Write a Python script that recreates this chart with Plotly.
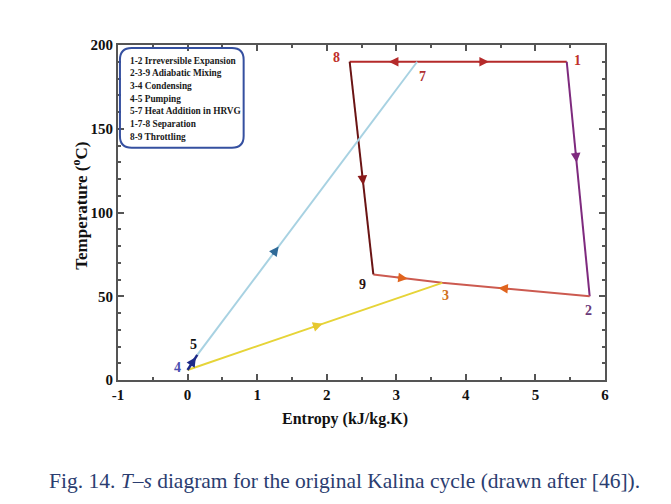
import math
import plotly.graph_objects as go

# ---- data ----
state_names = ["1", "2", "3", "4", "5", "7", "8", "9"]
state_s = [5.45, 5.78, 3.66, 0.00, 0.14, 3.30, 2.33, 2.67]   # kJ/kg.K
state_T = [190, 50, 58, 6, 15, 190, 190, 63]                  # degC

legend_lines = [
    "1-2 Irreversible Expansion",
    "2-3-9 Adiabatic Mixing",
    "3-4 Condensing",
    "4-5 Pumping",
    "5-7 Heat Addition in HRVG",
    "1-7-8 Separation",
    "8-9 Throttling",
]

x_tick_vals = [-1, 0, 1, 2, 3, 4, 5, 6]
x_tick_text = ["-1", "0", "1", "2", "3", "4", "5", "6"]
y_tick_vals = [0, 50, 100, 150, 200]
y_tick_text = ["0", "50", "100", "150", "200"]

P = {n: (s, t) for n, s, t in zip(state_names, state_s, state_T)}

# processes: (path of states, line colour, width)
processes = [
    (["8", "7", "1"], "#b52a2a", 2.0),
    (["1", "2"], "#7e2a7e", 2.0),
    (["9", "3", "2"], "#cc5a50", 2.0),
    (["8", "9"], "#6a1414", 2.0),
    (["4", "3"], "#e6d438", 2.0),
    (["5", "7"], "#a8d2e2", 2.0),
    (["4", "5"], "#1c2a88", 2.5),
]

# arrows: (from, to, fraction along segment, colour)
arrows = [
    ("7", "8", 0.42, "#b52a2a"),
    ("7", "1", 0.48, "#b52a2a"),
    ("1", "2", 0.43, "#7e2a7e"),
    ("8", "9", 0.58, "#8a1a1a"),
    ("9", "3", 0.50, "#e0641e"),
    ("2", "3", 0.62, "#e0641e"),
    ("4", "3", 0.53, "#e6c830"),
    ("5", "7", 0.37, "#2f6a98"),
    ("4", "5", 0.85, "#1c2a88"),
]

# point labels: (state, colour, xshift px, yshift px)
point_labels = [
    ("1", "#c0302a", 11, 1),
    ("8", "#c0302a", -13, 4),
    ("7", "#b03030", 5, -15),
    ("9", "#2a1010", -11, -10),
    ("3", "#d07020", 3, -13),
    ("2", "#6a3a7a", -1, -14),
    ("5", "#111111", -4, 10),
    ("4", "#4a4fb0", -10, 2),
]

SERIF = "Liberation Serif"

# plot-area geometry (page has an 8px body margin)
ML, MR, MT, MB = 110, 74, 37, 132
PW = 671 - ML - MR
PH = 504 - MT - MB
XR, YR = (-1, 6), (0, 200)
kx = PW / (XR[1] - XR[0])
ky = PH / (YR[1] - YR[0])

fig = go.Figure()
for path, col, w in processes:
    fig.add_trace(go.Scatter(
        x=[P[n][0] for n in path], y=[P[n][1] for n in path],
        mode="lines", line=dict(color=col, width=w),
        showlegend=False, hoverinfo="skip"))

anns = []
for a, b, f, col in arrows:
    (x0, y0), (x1, y1) = P[a], P[b]
    hx, hy = x0 + f * (x1 - x0), y0 + f * (y1 - y0)
    seg_px = math.hypot((x1 - x0) * kx, (y1 - y0) * ky)
    g = f - 12.0 / seg_px
    tx, ty = x0 + g * (x1 - x0), y0 + g * (y1 - y0)
    anns.append(dict(x=hx, y=hy, ax=tx, ay=ty, xref="x", yref="y",
                     axref="x", ayref="y", text="", showarrow=True,
                     arrowhead=2, arrowsize=1.2, arrowwidth=1.6,
                     arrowcolor=col))

for n, col, dx, dy in point_labels:
    anns.append(dict(x=P[n][0], y=P[n][1], xref="x", yref="y", text=f"<b>{n}</b>",
                     showarrow=False, xshift=dx, yshift=dy,
                     font=dict(family=SERIF, size=14, color=col)))

# legend box text
leg_y0 = 0.953
leg_step = 0.0378
for i, line in enumerate(legend_lines):
    anns.append(dict(x=0.02, y=leg_y0 - i * leg_step, xref="paper", yref="paper",
                     text=f"<b>{line}</b>", showarrow=False, xanchor="left",
                     yanchor="middle",
                     font=dict(family=SERIF, size=9.3, color="#1a1a1a")))

# axis titles
anns.append(dict(x=0.466, y=-0.115, xref="paper", yref="paper", yanchor="middle",
                 xanchor="center", text="<b>Entropy (kJ/kg.K)</b>", showarrow=False,
                 font=dict(family=SERIF, size=16, color="#111111")))
anns.append(dict(x=-0.078, y=0.52, xref="paper", yref="paper", yanchor="middle",
                 xanchor="center", textangle=-90,
                 text="<b>Temperature (<sup>o</sup>C)</b>", showarrow=False,
                 font=dict(family=SERIF, size=17, color="#111111")))

# caption
anns.append(dict(x=0.466, y=-0.3, xref="paper", yref="paper", yanchor="middle",
                 xanchor="center",
                 text="Fig. 14. <i>T–s</i> diagram for the original Kalina cycle (drawn after [46]).",
                 showarrow=False,
                 font=dict(family=SERIF, size=21.5, color="#2b3d70")))

# rounded legend box (paper coords)
x0b, x1b, y0b, y1b = 0.004, 0.258, 0.693, 0.991
rx, ry = 0.024, 0.035
path = (f"M {x0b+rx},{y1b} L {x1b-rx},{y1b} Q {x1b},{y1b} {x1b},{y1b-ry} "
        f"L {x1b},{y0b+ry} Q {x1b},{y0b} {x1b-rx},{y0b} "
        f"L {x0b+rx},{y0b} Q {x0b},{y0b} {x0b},{y0b+ry} "
        f"L {x0b},{y1b-ry} Q {x0b},{y1b} {x0b+rx},{y1b} Z")
fig.add_shape(type="path", path=path, xref="paper", yref="paper",
              line=dict(color="#3550a0", width=2), fillcolor="rgba(255,255,255,0)")

axis_common = dict(showgrid=False, zeroline=False, showline=True, mirror="ticks",
                   linecolor="#555555", linewidth=2, ticks="inside", ticklen=6,
                   tickcolor="#555555", tickwidth=1.5,
                   tickfont=dict(family=SERIF, size=15, color="#111111"))

fig.update_layout(
    width=671, height=504,
    paper_bgcolor="white", plot_bgcolor="white",
    margin=dict(l=ML, r=MR, t=MT, b=MB),
    xaxis=dict(range=list(XR), tickvals=x_tick_vals,
               ticktext=[f"<b>{t}</b>" for t in x_tick_text],
               minor=dict(dtick=0.5, ticks="inside", ticklen=3, tickcolor="#555555"),
               **axis_common),
    yaxis=dict(range=list(YR), tickvals=y_tick_vals,
               ticktext=[f"<b>{t}</b>" for t in y_tick_text],
               minor=dict(dtick=10, ticks="inside", ticklen=3, tickcolor="#555555"),
               **axis_common),
    annotations=anns,
)

fig.write_html("out.html")
